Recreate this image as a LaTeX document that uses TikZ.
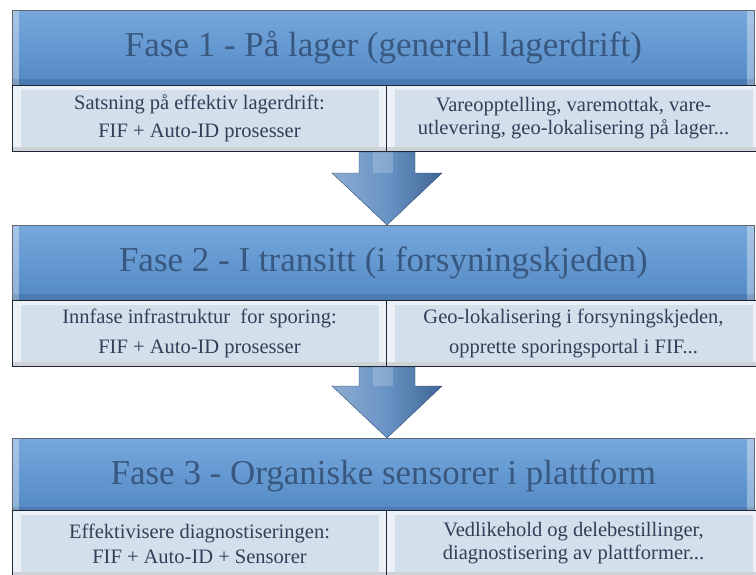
\documentclass[tikz,border=0pt]{standalone}
\usepackage{fontspec}
\setmainfont{Liberation Serif}
\usetikzlibrary{positioning, calc}
\definecolor{headtop}{RGB}{118,168,220}
\definecolor{headbot}{RGB}{82,136,196}
\definecolor{headtext}{RGB}{56,88,128}
\definecolor{subface}{RGB}{212,223,236}
\definecolor{subrim}{RGB}{236,241,247}
\definecolor{subtext}{RGB}{48,64,88}
\definecolor{framedark}{RGB}{28,38,52}
\definecolor{arrowblue}{RGB}{78,128,186}

\tikzset{
  phase/.style={rectangle, anchor=north west, inner sep=0pt,
    minimum width=742pt, minimum height=75pt,
    top color=headtop, bottom color=headbot, draw=framedark!70, line width=0.8pt,
    text=headtext, font=\fontsize{35}{40}\selectfont,
    path picture={
      \fill[white, opacity=0.35] (path picture bounding box.north west) rectangle ([xshift=7pt]path picture bounding box.south west);
      \fill[white, opacity=0.35] ([xshift=-7pt]path picture bounding box.north east) rectangle (path picture bounding box.south east);
      \fill[black, opacity=0.10] ([yshift=6pt]path picture bounding box.south west) rectangle (path picture bounding box.south east);
    }},
  detail/.style={rectangle, anchor=north west, inner sep=0pt,
    minimum width=374pt, minimum height=66pt, align=center,
    fill=subrim, draw=framedark, line width=1pt, text=subtext,
    path picture={
      \fill[subface] ([xshift=8pt,yshift=-4pt]path picture bounding box.north west) rectangle ([xshift=-8pt,yshift=5pt]path picture bounding box.south east);
      \fill[black, opacity=0.12] (path picture bounding box.south west) rectangle ([yshift=5pt]path picture bounding box.south east);
    }},
  bigarrow/.style={left color=arrowblue!65!white, right color=arrowblue!80!black,
    middle color=arrowblue!85!white, draw=arrowblue!60!black, line width=0.4pt}
}

\begin{document}
\begin{tikzpicture}[x=1pt, y=-1pt]
  \useasboundingbox (0,0) rectangle (756,574);

  % Phase 1
  \node[phase] (h1) at (12,10) {Fase 1 - På lager (generell lagerdrift)};
  \node[detail, font=\fontsize{20.5}{28}\selectfont] (l1) at (12,85) {Satsning på effektiv lagerdrift:\\FIF + Auto-ID prosesser};
  \node[detail, font=\fontsize{20.5}{23}\selectfont] (r1) at (386,85) {Vareopptelling, varemottak, vare-\\utlevering, geo-lokalisering på lager...};

  % Phase 2
  \node[phase] (h2) at (12,225) {Fase 2 - I transitt (i forsyningskjeden)};
  \node[detail, font=\fontsize{20.5}{30}\selectfont] (l2) at (12,300) {Innfase infrastruktur\ \ for sporing:\\FIF + Auto-ID prosesser};
  \node[detail, font=\fontsize{20.5}{30}\selectfont] (r2) at (386,300) {Geo-lokalisering i forsyningskjeden,\\opprette sporingsportal i FIF...};

  % Phase 3
  \node[phase] (h3) at (12,438) {Fase 3 - Organiske sensorer i plattform};
  \node[detail, font=\fontsize{20.5}{25}\selectfont] (l3) at (12,510) {Effektivisere diagnostiseringen:\\FIF + Auto-ID + Sensorer};
  \node[detail, font=\fontsize{20.5}{23}\selectfont] (r3) at (386,510) {Vedlikehold og delebestillinger,\\diagnostisering av plattformer...};

  % Block arrows between phases
  \foreach \from/\to in {l1/h2, l2/h3} {
    \path[bigarrow] let \p1=(\from.south east), \p2=(\to.north) in
      (\x1-28pt,\y1) -- (\x1+28pt,\y1) -- (\x1+28pt,\y2+52pt) -- (\x1+55pt,\y2+52pt)
      -- (\x1,\y2) -- (\x1-55pt,\y2+52pt) -- (\x1-28pt,\y2+52pt) -- cycle;
    \fill[white, opacity=0.2] let \p1=(\from.south east), \p2=(\to.north) in
      (\x1-14pt,\y1) rectangle (\x1+6pt,\y2+52pt);
  }
\end{tikzpicture}
\end{document}
